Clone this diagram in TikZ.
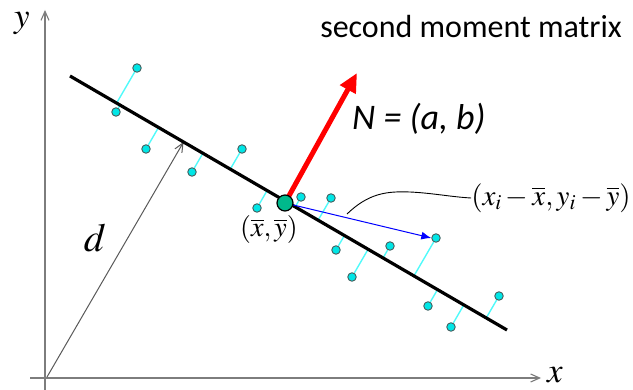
\documentclass[tikz,border=0pt]{standalone}
\usepackage{mathptmx}
\usepackage{fontspec}
\setmainfont{Liberation Serif}
\newfontfamily\calibri{Carlito}
\usetikzlibrary{calc,arrows.meta}
\definecolor{ptfill}{RGB}{0,230,230}
\definecolor{ptdraw}{RGB}{70,95,95}
\definecolor{devcyan}{RGB}{80,250,250}
\definecolor{cgreen}{RGB}{0,185,140}
\definecolor{axisgray}{RGB}{125,125,125}
\tikzset{
  axis/.style={draw=axisgray, line width=1.1pt, -{Straight Barb[length=9pt,width=8pt]}},
  darr/.style={draw=black!65, line width=1pt, -{Straight Barb[length=9pt,width=8pt]}},
  fitline/.style={draw=black, line width=3.2pt},
  devline/.style={draw=devcyan, line width=1.4pt},
  pt/.style={circle, fill=ptfill, draw=ptdraw, line width=0.9pt, minimum size=8.5pt, inner sep=0pt},
  cent/.style={circle, fill=cgreen, draw=black, line width=1.2pt, minimum size=16pt, inner sep=0pt},
  normal/.style={draw=red, line width=5pt, -{Triangle[length=19pt,width=17pt]}},
  vec/.style={draw=blue, line width=1pt, -{Latex[length=10pt,width=8pt]}},
  lead/.style={draw=black, line width=0.9pt},
  mlbl/.style={inner sep=0pt, font=\fontsize{35}{37}\selectfont},
}
\begin{document}
\begin{tikzpicture}[x=1pt,y=-1pt]
\useasboundingbox (0,0) rectangle (633,390);
% axes
\coordinate (ybot) at (45,390);
\coordinate (ytop) at (45,10);
\coordinate (xleft) at (30,378);
\coordinate (xright) at (541,378);
\draw[axis] (ybot) -- (ytop);
\draw[axis] (xleft) -- (xright);
\node[mlbl] (ylbl) at (22,23) {$y$};
\node[mlbl] (xlbl) at (555,375) {$x$};
% fit line endpoints
\coordinate (A) at (70,76);
\coordinate (B) at (507,330);
% d arrow
\coordinate (O) at (47,377);
\coordinate (dfoot) at ($(A)!(O)!(B)$);
\draw[darr] (O) -- (dfoot);
\node[inner sep=0pt, font=\fontsize{40}{42}\selectfont] (dlbl) at (95,238) {$d$};
% data points
\foreach \px/\py [count=\i] in {137/68, 116/112, 146/149, 192/172, 242/149, 257/208, 301/197, 331/198, 336/250, 390/246, 352/277, 436/238, 428/306, 451/327, 499/296}{
  \coordinate (q\i) at (\px,\py);
}
\foreach \i in {1,...,15}{
  \draw[devline] (q\i) -- ($(A)!(q\i)!(B)$);
}
\draw[fitline] (A) -- (B);
\foreach \i in {1,...,15}{
  \node[pt] (p\i) at (q\i) {};
}
% centroid and vectors
\coordinate (cpos) at (285,203);
\coordinate (Ntip) at (357,73);
\draw[normal] (cpos) -- (Ntip);
\draw[vec] (cpos) -- (p12.west);
\node[cent] (c) at (cpos) {};
% labels
\node[inner sep=0pt, font=\fontsize{28}{30}\selectfont] (clbl) at (269,230) {$(\overline{x},\overline{y})$};
\node[inner sep=0pt, font=\fontsize{29}{31}\selectfont] (dev) at (551,198) {$(x_i-\overline{x},y_i-\overline{y})$};
\coordinate (leadstart) at (347,214);
\draw[lead] (leadstart) .. controls (368,194) and (385,191) .. (410,192) .. controls (432,193) and (452,197) .. (dev.west);
\node[anchor=base, inner sep=0pt, font=\calibri\fontsize{32}{34}\selectfont] (title) at (471,38) {second moment matrix};
\node[anchor=base west, inner sep=0pt, font=\calibri\itshape\fontsize{36}{38}\selectfont] (Nlbl) at (352,130) {N = (a, b)};
\end{tikzpicture}
\end{document}
